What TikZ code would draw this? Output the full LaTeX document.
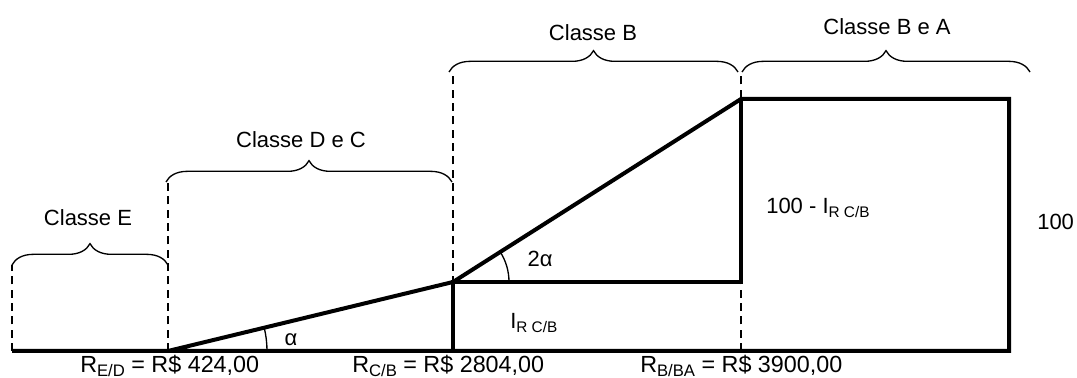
\documentclass[tikz,border=0pt]{standalone}
\usepackage{fontspec}
\setmainfont{Liberation Sans}
\usetikzlibrary{decorations.pathreplacing}
\newcommand{\lsub}[1]{\raisebox{-0.4ex}{\fontsize{11.5}{12}\selectfont #1}}
\newcommand{\bsub}[1]{\raisebox{-0.35ex}{\fontsize{12.5}{13}\selectfont #1}}

\begin{document}
\begin{tikzpicture}[x=0.75pt, y=0.75pt, font=\fontsize{16.5}{19}\selectfont]
\tikzset{
  curve/.style={line width=3pt, line join=miter},
  guide/.style={line width=1pt, dash pattern=on 6pt off 4pt},
  bracket/.style={decorate, decoration={brace, amplitude=16pt}, line width=1pt},
  lbl/.style={inner sep=0pt},
  price/.style={inner sep=0pt, anchor=base west, font=\fontsize{17.5}{20}\selectfont}
}
\useasboundingbox (0,0) rectangle (1077,378);

% dashed guides
\foreach \x/\top in {12/113, 168/196, 453/306, 741/306} {\draw[guide] (\x,27) -- (\x,\top);}

% braces and class names
\draw[bracket] (12,113) -- (168,113);
\draw[bracket] (166,196) -- (452,196);
\draw[bracket] (449,306) -- (738,306);
\draw[bracket] (742,306) -- (1030,306);
\node[lbl] (clE) at (88,160) {Classe E};
\node[lbl] (clDC) at (301,238) {Classe D e C};
\node[lbl] (clB) at (593,345) {Classe B};
\node[lbl] (clBA) at (887,351) {Classe B e A};

% curve
\coordinate (o) at (12,27);
\coordinate (ed) at (168,27);
\coordinate (cb) at (453,96);
\coordinate (cb0) at (453,27);
\coordinate (ba) at (741,279);
\coordinate (bam) at (741,96);
\coordinate (tr) at (1009,279);
\coordinate (br) at (1009,27);
\draw[curve] (o) -- (br) -- (tr) -- (ba) -- (cb) -- (ed);
\draw[curve] (cb0) -- (cb) -- (bam) -- (ba);

% angles
\draw[line width=1pt] ([shift={(0:74.25pt)}]ed) arc (0:13.6:74.25pt);
\draw[line width=1pt] ([shift={(0:42pt)}]cb) arc (0:32.4:42pt);
\node[lbl] (a1) at (291,38) {α};
\node[lbl] (a2) at (540,119) {2α};

% values
\node[lbl, anchor=west] (ircb) at (510,55) {I\lsub{R C/B}};
\node[lbl, anchor=west] (rest) at (766,170) {100 - I\lsub{R C/B}};
\node[lbl, anchor=west] (full) at (1037,156) {100};
\node[price] (red) at (80,6) {R\bsub{E/D} = R\$ 424,00};
\node[price] (rcb) at (352,6) {R\bsub{C/B} = R\$ 2804,00};
\node[price] (rbba) at (640,6) {R\bsub{B/BA} = R\$ 3900,00};
\end{tikzpicture}
\end{document}
